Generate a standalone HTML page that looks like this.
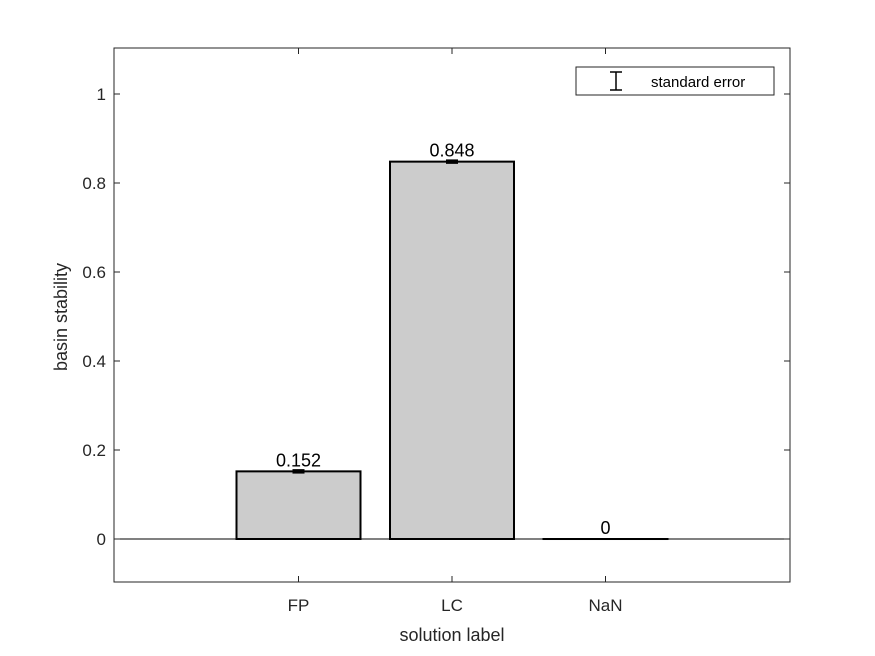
<!DOCTYPE html>
<html><head><meta charset="utf-8"><style>
html,body{margin:0;padding:0;background:#fff;}
svg{display:block;font-family:"Liberation Sans",Arial,sans-serif;}
</style></head><body>
<svg id="chart" width="875" height="656" viewBox="0 0 875 656">
<rect x="0" y="0" width="875" height="656" fill="#fff"/>
<g id="plot"></g>
</svg>
<script>
const categories = ["FP","LC","NaN"];
const values = [0.152, 0.848, 0];
const errors = [0.005, 0.005, 0];
const valueLabels = ["0.152","0.848","0"];
const yTicks = [0,0.2,0.4,0.6,0.8,1];
const yTickLabels = ["0","0.2","0.4","0.6","0.8","1"];

const L=114,R=790,T=48,B=582;
const y = v => 539 - v*445;
const x = i => 452 + (i - 1)*153.5;
const barW = 124;
const NS="http://www.w3.org/2000/svg";
const g=document.getElementById('plot');
function mk(tag,attrs,text){const e=document.createElementNS(NS,tag);for(const k in attrs)e.setAttribute(k,attrs[k]);if(text!==undefined)e.textContent=text;g.appendChild(e);return e;}

let box=mk('rect',{x:L,y:T,width:R-L,height:B-T,fill:'#fff',stroke:'#262626','stroke-width':1});



let bl=mk('line',{x1:L,x2:R,y1:y(0),y2:y(0),stroke:'#000','stroke-width':1});



yTicks.forEach((t,i)=>{
  let tk=mk('line',{x1:L,x2:L+6,y1:y(t),y2:y(t),stroke:'#262626'});
  
  
  let tk2=mk('line',{x1:R-6,x2:R,y1:y(t),y2:y(t),stroke:'#262626'});
  
  
  let lb=mk('text',{x:L-8,y:y(t)+6,'text-anchor':'end','font-size':17,fill:'#262626'},yTickLabels[i]);
  
  
});

categories.forEach((c,i)=>{
  const top=y(values[i]), base=y(0);
  let b=mk('rect',{x:x(i)-barW/2,y:Math.min(top,base),width:barW,height:Math.max(Math.abs(base-top),0.01),fill:'#cccccc',stroke:'#000','stroke-width':2});
  
  
  if(errors[i]>0){
    let eb=mk('rect',{x:x(i)-6,y:y(values[i]+errors[i]),width:12,height:y(values[i]-errors[i])-y(values[i]+errors[i]),fill:'#000'});
    
    
  }
  let vl=mk('text',{x:x(i),y:top-5,'text-anchor':'middle','font-size':18,fill:'#000'},valueLabels[i]);
  
  
  let tk=mk('line',{x1:x(i),x2:x(i),y1:B,y2:B-6,stroke:'#262626'});
  
  
  let tk2=mk('line',{x1:x(i),x2:x(i),y1:T,y2:T+6,stroke:'#262626'});
  
  
  let xl=mk('text',{x:x(i),y:B+29,'text-anchor':'middle','font-size':17,fill:'#262626'},c);
  
  
});

let xt=mk('text',{x:452,y:641,'text-anchor':'middle','font-size':18,fill:'#262626'},'solution label');


let yt=mk('text',{x:0,y:0,'text-anchor':'middle','font-size':18,fill:'#262626',transform:'translate(67,317) rotate(-90)'},'basin stability');



let lg=mk('rect',{x:576,y:67,width:198,height:28,fill:'#fff',stroke:'#262626'});


let li=mk('path',{d:'M610 72 H622 M616 72 V90 M610 90 H622',stroke:'#000','stroke-width':1.5,fill:'none'});


let lt=mk('text',{x:651,y:87,'font-size':15,fill:'#000'},'standard error');


</script>
</body></html>
